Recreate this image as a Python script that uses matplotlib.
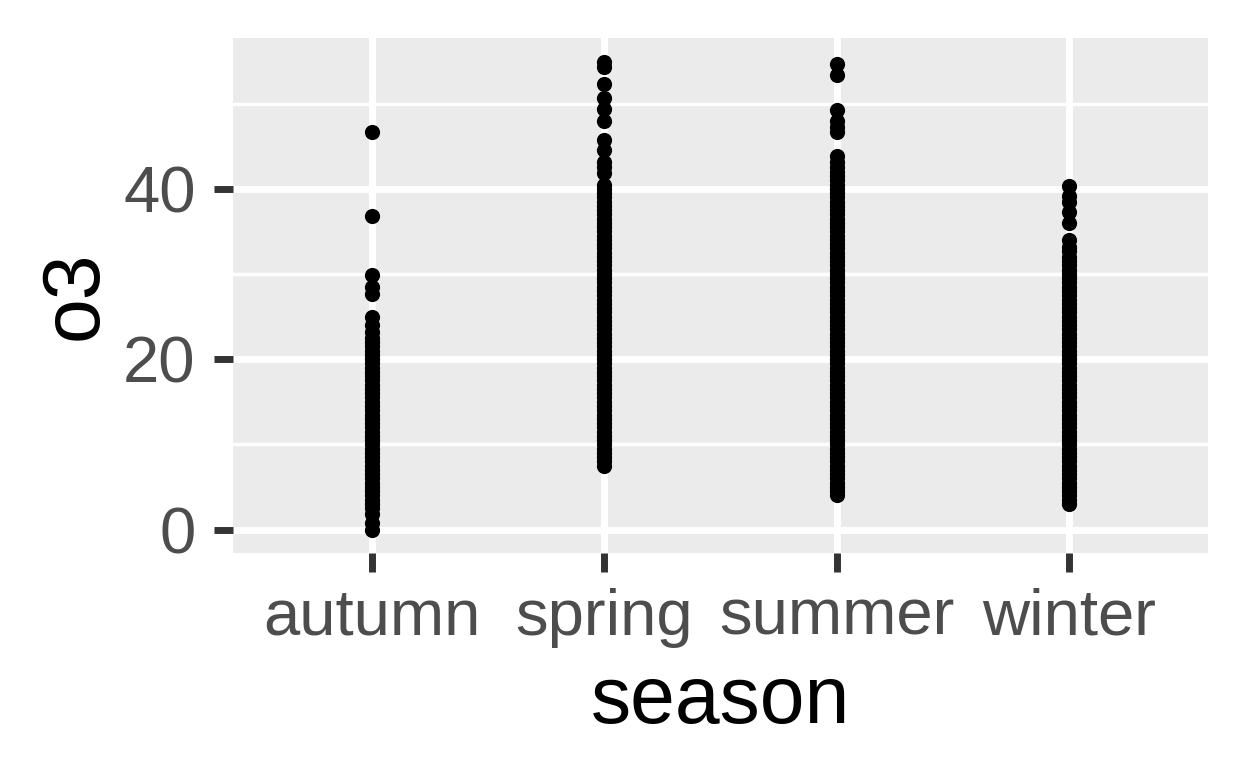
import matplotlib.pyplot as plt

plt.rcParams['font.family'] = ['Liberation Sans', 'DejaVu Sans']

seasons = ['autumn', 'spring', 'summer', 'winter']

# o3 values
o3_autumn = [46.7, 36.8, 29.9, 28.5, 27.6, 24.9, 24.0, 23.2,
             22.5, 22.0, 21.5, 21.0, 20.5, 20.0, 19.5, 19.0, 18.5, 18.0,
             17.5, 17.0, 16.5, 16.0, 15.5, 15.0, 14.5, 14.0, 13.5, 13.0,
             12.5, 12.0, 11.5, 11.0, 10.5, 10.0, 9.5, 9.0, 8.5, 8.0,
             7.5, 7.0, 6.5, 6.0, 5.5, 5.0, 4.5, 4.0, 3.5, 3.0, 2.5,
             1.8, 0.8, 0.0]
o3_spring = [54.9, 54.3, 52.3, 50.6, 49.4, 47.9, 45.7, 44.6, 43.2, 42.6, 41.9,
             40.5, 40.0, 39.5, 39.0, 38.5, 38.0, 37.5, 37.0, 36.5, 36.0,
             35.5, 35.0, 34.5, 34.0, 33.5, 33.0, 32.5, 32.0, 31.5, 31.0,
             30.5, 30.0, 29.5, 29.0, 28.5, 28.0, 27.5, 27.0, 26.5, 26.0,
             25.5, 25.0, 24.5, 24.0, 23.5, 23.0, 22.5, 22.0, 21.5, 21.0,
             20.5, 20.0, 19.5, 19.0, 18.5, 18.0, 17.5, 17.0, 16.5, 16.0,
             15.5, 15.0, 14.5, 14.0, 13.5, 13.0, 12.5, 12.0, 11.5, 11.0,
             10.5, 10.0, 9.5, 9.0, 8.5, 8.0, 7.5]
o3_summer = [54.7, 53.4, 49.2, 47.9, 47.3, 46.7,
             43.9, 43.2, 42.5, 42.0, 41.5, 41.0, 40.5, 40.0, 39.5, 39.0,
             38.5, 38.0, 37.5, 37.0, 36.5, 36.0, 35.5, 35.0, 34.5, 34.0,
             33.5, 33.0, 32.5, 32.0, 31.5, 31.0, 30.5, 30.0, 29.5, 29.0,
             28.5, 28.0, 27.5, 27.0, 26.5, 26.0, 25.5, 25.0, 24.5, 24.0,
             23.5, 23.0, 22.5, 22.0, 21.5, 21.0, 20.5, 20.0, 19.5, 19.0,
             18.5, 18.0, 17.5, 17.0, 16.5, 16.0, 15.5, 15.0, 14.5, 14.0,
             13.5, 13.0, 12.5, 12.0, 11.5, 11.0, 10.5, 10.0, 9.5, 9.0,
             8.5, 8.0, 7.5, 7.0, 6.5, 6.0, 5.5, 5.0, 4.5, 4.0]
o3_winter = [40.3, 39.1, 38.5, 37.3, 36.0, 34.0,
             33.2, 32.7, 32.0, 31.5, 31.0, 30.5, 30.0, 29.5, 29.0, 28.5,
             28.0, 27.5, 27.0, 26.5, 26.0, 25.5, 25.0, 24.5, 24.0, 23.5,
             23.0, 22.5, 22.0, 21.5, 21.0, 20.5, 20.0, 19.5, 19.0, 18.5,
             18.0, 17.5, 17.0, 16.5, 16.0, 15.5, 15.0, 14.5, 14.0, 13.5,
             13.0, 12.5, 12.0, 11.5, 11.0, 10.5, 10.0, 9.5, 9.0, 8.5,
             8.0, 7.5, 7.0, 6.5, 6.0, 5.5, 5.0, 4.5, 4.0, 3.5, 3.0]

y_ticks = [0, 20, 40]
y_minor = [10, 30, 50]

fig = plt.figure(figsize=(12.48, 7.68), dpi=100)
ax = fig.add_axes([0.1867, 0.28, 0.7813, 0.6705])
ax.set_facecolor('#EBEBEB')

for i, vals in enumerate([o3_autumn, o3_spring, o3_summer, o3_winter]):
    ax.scatter([i] * len(vals), vals, s=120, color='black', linewidths=0, zorder=3)

ax.set_xlim(-0.6, 3.6)
ax.set_ylim(-2.75, 57.7)
ax.set_xticks(range(len(seasons)))
ax.set_xticklabels(seasons)
ax.set_yticks(y_ticks)
ax.set_yticks(y_minor, minor=True)

ax.grid(which='major', color='white', linewidth=5)
ax.grid(which='minor', color='white', linewidth=2.5)
ax.set_axisbelow(True)
for sp in ax.spines.values():
    sp.set_visible(False)

ax.tick_params(which='major', length=14, width=5, color='#333333',
               labelsize=47, labelcolor='#4D4D4D', pad=8)
ax.tick_params(axis='x', which='major', pad=11)
ax.tick_params(axis='y', which='major', pad=13)
ax.tick_params(which='minor', length=0)

ax.set_xlabel('season', fontsize=58, color='black', labelpad=12)
ax.set_ylabel('o3', fontsize=58, color='black', labelpad=7)

fig.savefig('out.png', dpi=100)
